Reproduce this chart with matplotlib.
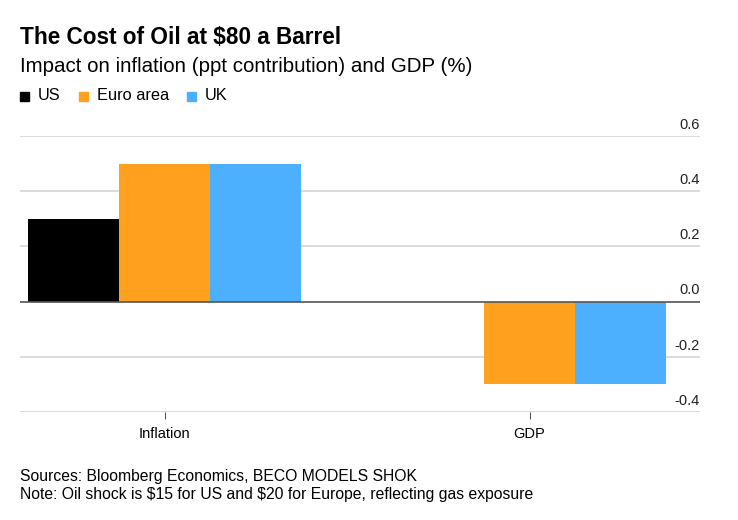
import matplotlib.pyplot as plt
import matplotlib.transforms as mtransforms
import numpy as np

categories = ['Inflation', 'GDP']
series = ['US', 'Euro area', 'UK']
us = [0.30, 0.0]
euro = [0.50, -0.30]
uk = [0.50, -0.30]
yticks = [-0.4, -0.2, 0.0, 0.2, 0.4, 0.6]

colors = ['#000000', '#FFA11E', '#4CB0FF']
plt.rcParams['font.family'] = ['Liberation Sans', 'DejaVu Sans']

fig = plt.figure(figsize=(7.38, 5.2), dpi=100)
ax = fig.add_axes([20 / 738, 1 - 412 / 520, 680 / 738, 276 / 520])

x = np.arange(len(categories))
w = 0.25
for i, (vals, c) in enumerate(zip([us, euro, uk], colors)):
    ax.bar(x + (i - 1) * w, vals, width=w, color=c, zorder=3)

ax.set_xlim(-0.396, 1.467)
ax.set_ylim(-0.4, 0.6)

# grid + zero line
for v in yticks:
    if v == 0:
        ax.axhline(v, color='#555555', lw=1.2, zorder=4)
    else:
        ax.axhline(v, color='#d6d6d6', lw=1.2, zorder=1)

# y labels sit above the gridlines at the right
trans = mtransforms.blended_transform_factory(ax.transAxes, ax.transData)
for v in yticks:
    ax.annotate(f'{v:.1f}', xy=(1.0, v), xycoords=trans, xytext=(0, 3),
                textcoords='offset points', ha='right', va='bottom',
                fontsize=10.5, color='#222222')

ax.set_yticks([])
ax.set_xticks(x)
ax.set_xticklabels(categories, fontsize=10.5)
ax.tick_params(axis='x', length=5, color='#555555', pad=6)
for s in ax.spines.values():
    s.set_visible(False)

fig.text(20 / 738, 1 - 38 / 520, r'The Cost of Oil at \$80 a Barrel', fontsize=16.3,
         fontweight='bold', va='center')
fig.text(20 / 738, 1 - 67 / 520, 'Impact on inflation (ppt contribution) and GDP (%)',
         fontsize=14.8, va='center')

# legend row
lx = 20
for name, c in zip(series, colors):
    fig.patches.append(plt.Rectangle((lx / 738, 1 - 101 / 520), 9 / 738, 9 / 520,
                                     transform=fig.transFigure, color=c, figure=fig))
    t = fig.text((lx + 18) / 738, 1 - 96 / 520, name, fontsize=11.8, va='center')
    fig.canvas.draw()
    bb = t.get_window_extent()
    lx = bb.x1 + 18

fig.text(20 / 738, 1 - 476 / 520, 'Sources: Bloomberg Economics, BECO MODELS SHOK',
         fontsize=11.3, va='center')
fig.text(20 / 738, 1 - 495 / 520,
         r'Note: Oil shock is \$15 for US and \$20 for Europe, reflecting gas exposure',
         fontsize=11.3, va='center')

fig.savefig('out.png', dpi=100)
